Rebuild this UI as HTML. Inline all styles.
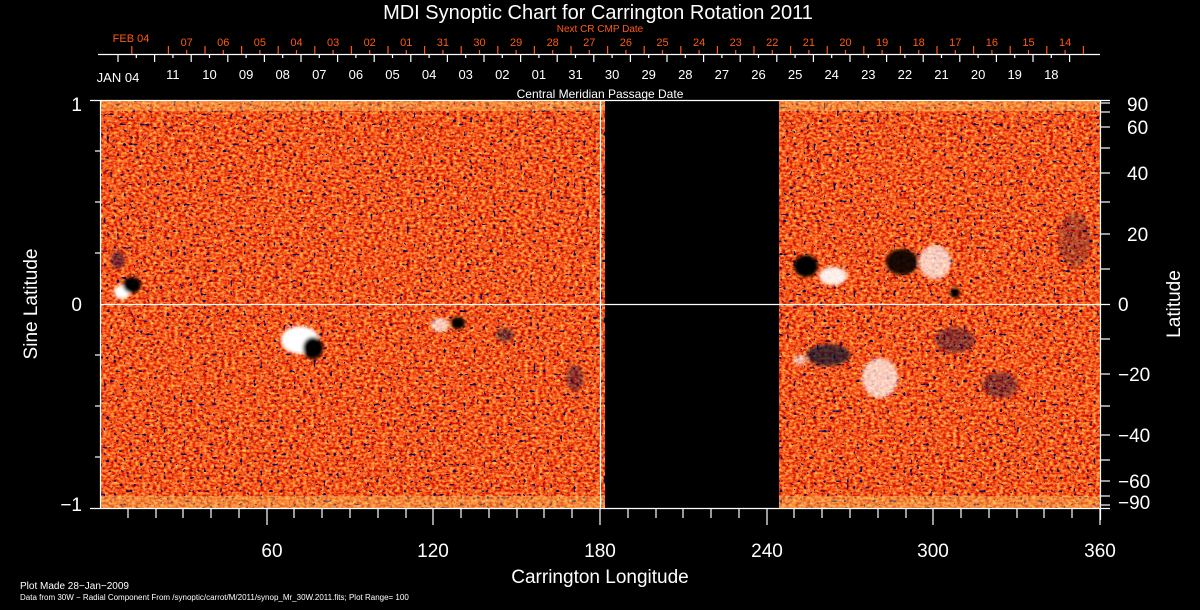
<!DOCTYPE html>
<html><head><meta charset="utf-8"><style>
html,body{margin:0;padding:0;background:#000;width:1200px;height:610px;overflow:hidden}
svg{display:block}
text{font-family:"Liberation Sans",sans-serif}
</style></head><body>
<svg width="1200" height="610" viewBox="0 0 1200 610" xmlns="http://www.w3.org/2000/svg">
<defs>
<filter id="tex" x="0" y="0" width="100%" height="100%" filterUnits="userSpaceOnUse" color-interpolation-filters="sRGB">
<feTurbulence type="fractalNoise" baseFrequency="0.28 0.4" numOctaves="2" seed="3"/>
<feColorMatrix values="0.6 0 0 0 0.66  1.3 0 0 0 -0.3  0.6 0 0 0 -0.18  0 0 0 0 1"/>
</filter>
<filter id="dots" x="0" y="0" width="100%" height="100%" filterUnits="userSpaceOnUse" color-interpolation-filters="sRGB">
<feTurbulence type="fractalNoise" baseFrequency="0.3" numOctaves="1" seed="11"/>
<feColorMatrix values="0 0 0 0 0.02  0 0 0 0 0.02  0 0 0 0 0.35  22 0 0 0 -14.6"/>
</filter>
<filter id="bl"><feGaussianBlur stdDeviation="1.5"/></filter>
<clipPath id="dc"><rect x="101" y="101" width="504" height="407"/><rect x="779" y="101" width="321" height="407"/></clipPath>
</defs>
<g clip-path="url(#dc)">
<rect x="100" y="100" width="1000" height="410" fill="#e85a20" filter="url(#tex)"/>
<rect x="100" y="100" width="1000" height="410" filter="url(#dots)"/>
<rect x="100" y="101" width="1000" height="10" fill="#ffe070" opacity="0.35"/>
<rect x="100" y="496" width="1000" height="12" fill="#ffe070" opacity="0.35"/>
<g filter="url(#bl)">
<ellipse cx="122" cy="292" rx="8" ry="7" fill="#fff"/>
<ellipse cx="132" cy="285" rx="9" ry="8" fill="#000"/>
<ellipse cx="118" cy="260" rx="7" ry="9" fill="#000a40" opacity=".5"/>
<ellipse cx="300" cy="340" rx="19" ry="14" fill="#fff"/>
<ellipse cx="313" cy="348" rx="10" ry="11" fill="#000"/>
<ellipse cx="440" cy="325" rx="9" ry="7" fill="#fff" opacity=".7"/>
<ellipse cx="458" cy="323" rx="7" ry="6" fill="#000"/>
<ellipse cx="505" cy="335" rx="9" ry="7" fill="#001040" opacity=".45"/>
<ellipse cx="575" cy="378" rx="9" ry="13" fill="#001040" opacity=".4"/>
<ellipse cx="806" cy="266" rx="12" ry="11" fill="#000"/>
<ellipse cx="833" cy="276" rx="14" ry="9" fill="#fff" opacity=".9"/>
<ellipse cx="902" cy="262" rx="16" ry="13" fill="#000" opacity=".9"/>
<ellipse cx="935" cy="262" rx="16" ry="17" fill="#fff" opacity=".7"/>
<ellipse cx="955" cy="293" rx="5" ry="5" fill="#000"/>
<ellipse cx="828" cy="355" rx="22" ry="11" fill="#000a30" opacity=".7"/>
<ellipse cx="880" cy="378" rx="18" ry="20" fill="#fff" opacity=".7"/>
<ellipse cx="955" cy="340" rx="20" ry="13" fill="#000a40" opacity=".4"/>
<ellipse cx="1000" cy="385" rx="18" ry="13" fill="#000a40" opacity=".4"/>
<ellipse cx="1075" cy="240" rx="16" ry="28" fill="#000a40" opacity=".25"/>
<ellipse cx="800" cy="360" rx="7" ry="5" fill="#fff" opacity=".6"/>
</g>
</g>
<g stroke="#fff" stroke-width="1.2" fill="none">
<line x1="90" y1="100.5" x2="1110" y2="100.5"/>
<line x1="90" y1="508.5" x2="1110" y2="508.5"/>
<line x1="100.5" y1="100" x2="100.5" y2="508"/>
<line x1="1100.5" y1="100" x2="1100.5" y2="520"/>
<line x1="100" y1="304.5" x2="1110" y2="304.5"/>
<line x1="600.5" y1="100" x2="600.5" y2="508"/>
<line x1="95" y1="151" x2="100" y2="151"/><line x1="95" y1="202" x2="100" y2="202"/><line x1="95" y1="253" x2="100" y2="253"/>
<line x1="95" y1="355" x2="100" y2="355"/><line x1="95" y1="406" x2="100" y2="406"/><line x1="95" y1="457" x2="100" y2="457"/>
<line x1="1100" y1="103" x2="1110" y2="103"/><line x1="1100" y1="112" x2="1110" y2="112"/><line x1="1100" y1="127" x2="1110" y2="127"/>
<line x1="1100" y1="148" x2="1110" y2="148"/><line x1="1100" y1="173" x2="1110" y2="173"/><line x1="1100" y1="202" x2="1110" y2="202"/>
<line x1="1100" y1="234" x2="1110" y2="234"/><line x1="1100" y1="269" x2="1110" y2="269"/>
<line x1="1100" y1="339" x2="1110" y2="339"/><line x1="1100" y1="374" x2="1110" y2="374"/><line x1="1100" y1="406" x2="1110" y2="406"/>
<line x1="1100" y1="435" x2="1110" y2="435"/><line x1="1100" y1="460" x2="1110" y2="460"/><line x1="1100" y1="481" x2="1110" y2="481"/>
<line x1="1100" y1="496" x2="1110" y2="496"/><line x1="1100" y1="505" x2="1110" y2="505"/>
<path d="M128,508v10M156,508v10M183,508v10M211,508v10M239,508v10M294,508v10M322,508v10M350,508v10M378,508v10M406,508v10M461,508v10M489,508v10M517,508v10M544,508v10M572,508v10M628,508v10M656,508v10M683,508v10M711,508v10M739,508v10M794,508v10M822,508v10M850,508v10M878,508v10M906,508v10M961,508v10M989,508v10M1017,508v10M1044,508v10M1072,508v10"/>
<path d="M267,508v17M433,508v17M600,508v17M767,508v17M933,508v17M1100,508v17"/>
<line x1="98" y1="54.5" x2="1100" y2="54.5"/>
<path d="M118,54v8M154.6,54v8M191.2,54v8M227.8,54v8M264.4,54v8M301,54v8M337.6,54v8M374.2,54v8M410.8,54v8M447.4,54v8M484,54v8M520.6,54v8M557.2,54v8M593.8,54v8M630.4,54v8M667,54v8M703.6,54v8M740.2,54v8M776.8,54v8M813.4,54v8M850,54v8M886.6,54v8M923.2,54v8M959.8,54v8M996.4,54v8M1033,54v8M1069.6,54v8"/>
<path d="M136.3,54v4M172.9,54v4M209.5,54v4M246.1,54v4M282.7,54v4M319.3,54v4M355.9,54v4M392.5,54v4M429.1,54v4M465.7,54v4M502.3,54v4M538.9,54v4M575.5,54v4M612.1,54v4M648.7,54v4M685.3,54v4M721.9,54v4M758.5,54v4M795.1,54v4M831.7,54v4M868.3,54v4M904.9,54v4M941.5,54v4M978.1,54v4M1014.7,54v4M1051.3,54v4"/>
</g>
<g stroke="#ff5a10" stroke-width="1.2">
<path d="M131.8,54v-8M168.4,54v-8M205,54v-8M241.6,54v-8M278.2,54v-8M314.8,54v-8M351.4,54v-8M388,54v-8M424.6,54v-8M461.2,54v-8M497.8,54v-8M534.4,54v-8M571,54v-8M607.6,54v-8M644.2,54v-8M680.8,54v-8M717.4,54v-8M754,54v-8M790.6,54v-8M827.2,54v-8M863.8,54v-8M900.4,54v-8M937,54v-8M973.6,54v-8M1010.2,54v-8M1046.8,54v-8M1083.4,54v-8"/>
<path d="M186.7,54v-4M223.3,54v-4M259.9,54v-4M296.5,54v-4M333.1,54v-4M369.7,54v-4M406.3,54v-4M442.9,54v-4M479.5,54v-4M516.1,54v-4M552.7,54v-4M589.3,54v-4M625.9,54v-4M662.5,54v-4M699.1,54v-4M735.7,54v-4M772.3,54v-4M808.9,54v-4M845.5,54v-4M882.1,54v-4M918.7,54v-4M955.3,54v-4M991.9,54v-4M1028.5,54v-4M1065.1,54v-4"/>
</g>
<text x="598" y="19" fill="#fff" font-size="20" text-anchor="middle">MDI Synoptic Chart for Carrington Rotation 2011</text>
<text x="600" y="32" fill="#ff5a10" font-size="10" text-anchor="middle">Next CR CMP Date</text>
<g fill="#ff5a10" font-size="11" text-anchor="middle">
<text x="131" y="42">FEB 04</text>
<text x="186.7" y="46">07</text><text x="223.3" y="46">06</text><text x="259.9" y="46">05</text><text x="296.5" y="46">04</text><text x="333.1" y="46">03</text><text x="369.7" y="46">02</text><text x="406.3" y="46">01</text><text x="442.9" y="46">31</text><text x="479.5" y="46">30</text><text x="516.1" y="46">29</text><text x="552.7" y="46">28</text><text x="589.3" y="46">27</text><text x="625.9" y="46">26</text><text x="662.5" y="46">25</text><text x="699.1" y="46">24</text><text x="735.7" y="46">23</text><text x="772.3" y="46">22</text><text x="808.9" y="46">21</text><text x="845.5" y="46">20</text><text x="882.1" y="46">19</text><text x="918.7" y="46">18</text><text x="955.3" y="46">17</text><text x="991.9" y="46">16</text><text x="1028.5" y="46">15</text><text x="1065.1" y="46">14</text>
</g>
<g fill="#fff" font-size="13" text-anchor="middle">
<text x="118" y="82">JAN 04</text>
<text x="172.9" y="79">11</text><text x="209.5" y="79">10</text><text x="246.1" y="79">09</text><text x="282.7" y="79">08</text><text x="319.3" y="79">07</text><text x="355.9" y="79">06</text><text x="392.5" y="79">05</text><text x="429.1" y="79">04</text><text x="465.7" y="79">03</text><text x="502.3" y="79">02</text><text x="538.9" y="79">01</text><text x="575.5" y="79">31</text><text x="612.1" y="79">30</text><text x="648.7" y="79">29</text><text x="685.3" y="79">28</text><text x="721.9" y="79">27</text><text x="758.5" y="79">26</text><text x="795.1" y="79">25</text><text x="831.7" y="79">24</text><text x="868.3" y="79">23</text><text x="904.9" y="79">22</text><text x="941.5" y="79">21</text><text x="978.1" y="79">20</text><text x="1014.7" y="79">19</text><text x="1051.3" y="79">18</text>
</g>
<text x="600" y="98" fill="#fff" font-size="12" text-anchor="middle">Central Meridian Passage Date</text>
<g fill="#fff" font-size="19">
<text x="82" y="111" text-anchor="end">1</text>
<text x="82" y="311" text-anchor="end">0</text>
<text x="82" y="511" text-anchor="end">−1</text>
<text x="1127" y="111">90</text><text x="1127" y="134">60</text><text x="1127" y="180">40</text><text x="1127" y="241">20</text>
<text x="1118" y="311">0</text>
<text x="1118" y="381">−20</text><text x="1118" y="442">−40</text><text x="1118" y="488">−60</text><text x="1118" y="509">−90</text>
</g>
<g fill="#fff" font-size="19" text-anchor="middle">
<text x="272" y="557">60</text><text x="433" y="557">120</text><text x="600" y="557">180</text><text x="767" y="557">240</text><text x="933" y="557">300</text><text x="1100" y="557">360</text>
</g>
<text x="600" y="583" fill="#fff" font-size="19" text-anchor="middle">Carrington Longitude</text>
<text transform="translate(37,304) rotate(-90)" fill="#fff" font-size="19" text-anchor="middle">Sine Latitude</text>
<text transform="translate(1180,304) rotate(-90)" fill="#fff" font-size="19" text-anchor="middle">Latitude</text>
<text x="20" y="589" fill="#fff" font-size="10">Plot Made 28−Jan−2009</text>
<text x="20" y="600" fill="#fff" font-size="8">Data from 30W − Radial Component From /synoptic/carrot/M/2011/synop_Mr_30W.2011.fits; Plot Range=  100</text>
</svg>
</body></html>
